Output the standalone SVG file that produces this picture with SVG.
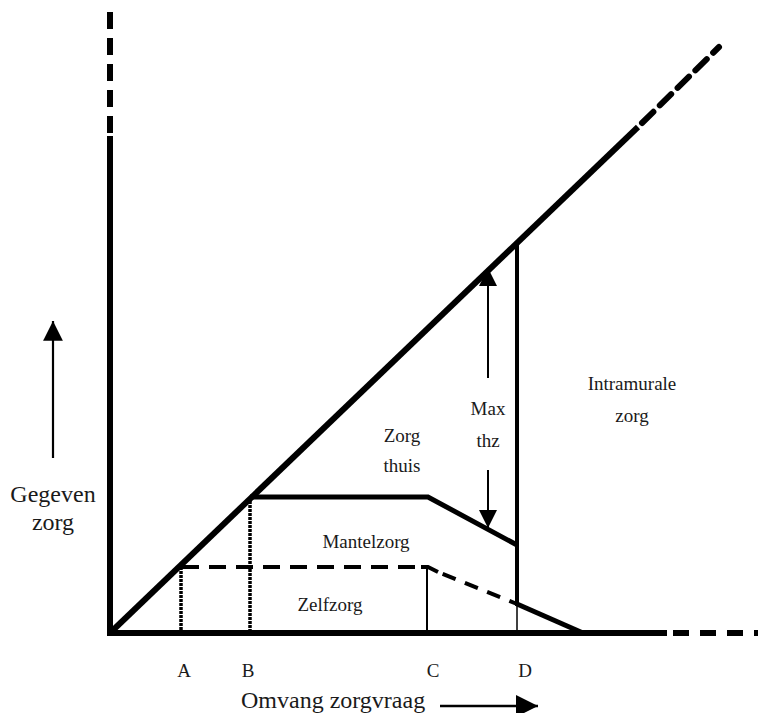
<svg xmlns="http://www.w3.org/2000/svg" width="758" height="713" viewBox="0 0 758 713">
<style>
.ln{stroke:#000;fill:none}
.t{font-family:"Liberation Serif","Times New Roman",serif;fill:#1a1a1a}
.in{font-size:19px}
.ax{font-size:24px}
</style>
<defs>
<marker id="ah2" viewBox="0 0 10 10" refX="10" refY="5" markerWidth="9" markerHeight="9" orient="auto">
<path d="M0,0 L10,5 L0,10 Z" fill="#000"/>
</marker>
</defs>
<rect width="758" height="713" fill="#fff"/>
<g id="connectors">
<line class="ln" x1="110" y1="136" x2="110" y2="636" stroke-width="6"/>
<line class="ln" x1="110" y1="12" x2="110" y2="136" stroke-width="6" stroke-dasharray="17 9"/>
<line class="ln" x1="107" y1="633" x2="667" y2="633" stroke-width="6"/>
<line class="ln" x1="673" y1="633" x2="758" y2="633" stroke-width="6" stroke-dasharray="16 11"/>
<line class="ln" x1="110" y1="633" x2="638" y2="127" stroke-width="6"/>
<line class="ln" x1="642" y1="123" x2="719" y2="47" stroke-width="6" stroke-dasharray="16 9" stroke-linecap="round"/>
<polyline class="ln" points="250,497 428,497 517,545" stroke-width="5"/>
<line class="ln" x1="180" y1="567" x2="428" y2="567" stroke-width="4" stroke-dasharray="17 10" stroke-dashoffset="-2"/>
<polyline class="ln" points="421,567 428,567 438,572" stroke-width="4"/>
<line class="ln" x1="438" y1="572" x2="517" y2="604" stroke-width="4" stroke-dasharray="14 10" stroke-dashoffset="-5"/>
<line class="ln" x1="517" y1="604" x2="583" y2="633" stroke-width="5"/>
<line class="ln" x1="427" y1="567" x2="427" y2="633" stroke-width="2"/>
<line class="ln" x1="517" y1="243" x2="517" y2="606" stroke-width="4"/>
<line class="ln" x1="517" y1="606" x2="517" y2="633" stroke-width="1.5"/>
<line class="ln" x1="181" y1="567" x2="181" y2="633" stroke-width="3.5" stroke-dasharray="3 1"/>
<line class="ln" x1="250" y1="497" x2="250" y2="633" stroke-width="3.5" stroke-dasharray="3 1"/>
<line class="ln" x1="488" y1="378" x2="488" y2="268" stroke-width="2" marker-end="url(#ah2)"/>
<line class="ln" x1="488" y1="470" x2="488" y2="528" stroke-width="2" marker-end="url(#ah2)"/>
<line class="ln" x1="53" y1="458" x2="53" y2="321" stroke-width="2.2" marker-end="url(#ah2)"/>
<line class="ln" x1="440" y1="706" x2="538" y2="706" stroke-width="2.5" marker-end="url(#ah2)"/>
</g>
<g id="label-zorg-thuis"><text class="t in" x="402" y="442" text-anchor="middle">Zorg</text><text class="t in" x="402" y="472" text-anchor="middle">thuis</text></g>
<g id="label-max-thz"><text class="t in" x="488" y="415" text-anchor="middle">Max</text><text class="t in" x="488" y="447" text-anchor="middle">thz</text></g>
<g id="label-intramurale"><text class="t in" x="632" y="390" text-anchor="middle">Intramurale</text><text class="t in" x="632" y="422" text-anchor="middle">zorg</text></g>
<g id="label-mantelzorg"><text class="t in" x="366" y="548" text-anchor="middle">Mantelzorg</text></g>
<g id="label-zelfzorg"><text class="t in" x="330" y="611" text-anchor="middle">Zelfzorg</text></g>
<g id="tick-A"><text class="t in" x="184" y="677" text-anchor="middle">A</text></g>
<g id="tick-B"><text class="t in" x="248" y="677" text-anchor="middle">B</text></g>
<g id="tick-C"><text class="t in" x="433" y="677" text-anchor="middle">C</text></g>
<g id="tick-D"><text class="t in" x="525" y="677" text-anchor="middle">D</text></g>
<g id="label-y"><text class="t ax" x="53" y="502" text-anchor="middle">Gegeven</text><text class="t ax" x="53" y="530" text-anchor="middle">zorg</text></g>
<g id="label-x"><text class="t ax" x="241" y="708">Omvang zorgvraag</text></g>
</svg>
